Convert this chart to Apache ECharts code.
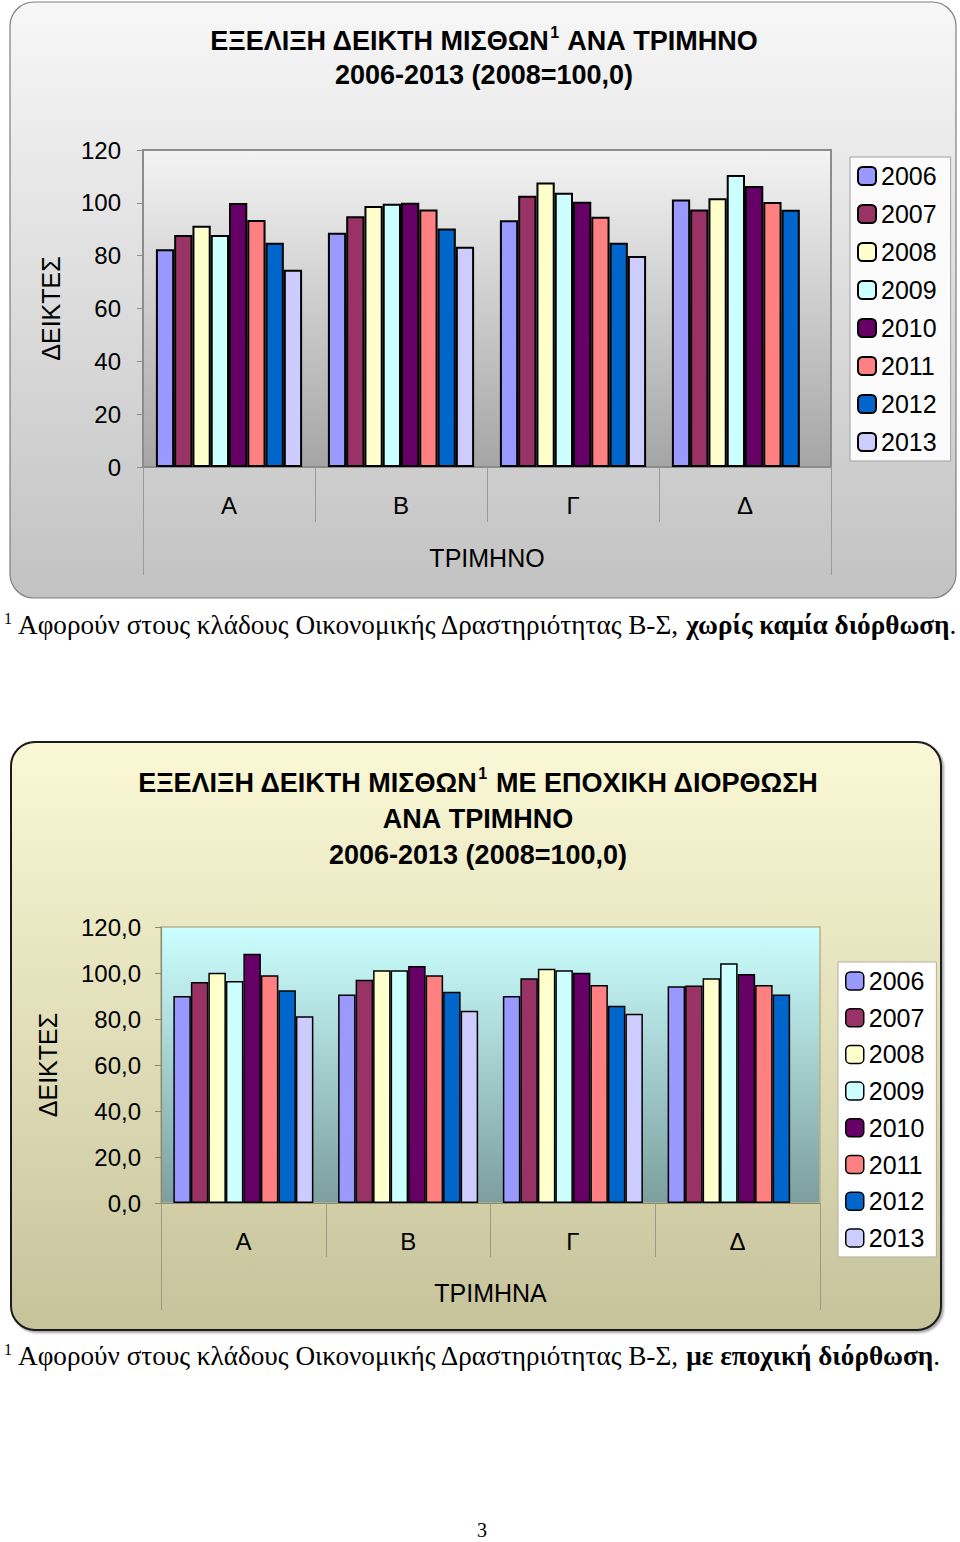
<!DOCTYPE html>
<html>
<head>
<meta charset="utf-8">
<script src="https://cdn.jsdelivr.net/npm/echarts@6/dist/echarts.min.js"></script>
<style>
html,body{margin:0;padding:0;background:#fff;}
#c{width:960px;height:1542px;}
</style>
</head>
<body>
<div id="c"></div>
<script>
// ---- data ----
const quarters = ['Α', 'Β', 'Γ', 'Δ'];
const years = ['2006', '2007', '2008', '2009', '2010', '2011', '2012', '2013'];
const yTicks = [0, 20, 40, 60, 80, 100, 120];

// Index without adjustment (per year, by quarter)
const raw2006 = [82.4, 88.7, 93.4, 101.3];
const raw2007 = [87.8, 94.9, 102.7, 97.5];
const raw2008 = [91.3, 98.8, 107.7, 101.7];
const raw2009 = [87.8, 99.7, 103.8, 110.5];
const raw2010 = [99.9, 100.0, 100.4, 106.4];
const raw2011 = [93.5, 97.5, 94.7, 100.3];
const raw2012 = [84.9, 90.3, 84.9, 97.4];
const raw2013 = [74.7, 83.4, 79.9, null];

// Seasonally adjusted index (per year, by quarter)
const sa2006 = [90.0, 90.6, 90.0, 94.2];
const sa2007 = [96.1, 97.1, 97.7, 94.6];
const sa2008 = [100.1, 101.2, 101.9, 97.7];
const sa2009 = [96.5, 101.2, 101.2, 104.2];
const sa2010 = [108.4, 103.0, 100.1, 99.6];
const sa2011 = [99.0, 99.0, 94.8, 94.8];
const sa2012 = [92.5, 91.9, 85.8, 90.6];
const sa2013 = [81.2, 83.6, 82.3, null];

const rawSeries = [raw2006, raw2007, raw2008, raw2009, raw2010, raw2011, raw2012, raw2013];
const saSeries = [sa2006, sa2007, sa2008, sa2009, sa2010, sa2011, sa2012, sa2013];

// ---- styles ----
const palette = ['#9999FF', '#993366', '#FFFFCC', '#CCFFFF', '#660066', '#FF8080', '#0066CC', '#CCCCFF'];
const SANS = '"Liberation Sans", Arial, sans-serif';
const SERIF = '"Liberation Serif", "Times New Roman", serif';

const chart = echarts.init(document.getElementById('c'), null, { renderer: 'svg' });

function lg(c0, c1) {
  return new echarts.graphic.LinearGradient(0, 0, 0, 1, [
    { offset: 0, color: c0 }, { offset: 1, color: c1 }
  ]);
}

const series = [];
rawSeries.forEach((arr, i) => {
  series.push({
    name: years[i], type: 'bar', xAxisIndex: 0, yAxisIndex: 0,
    data: arr, barGap: '0%', barCategoryGap: '15%',
    itemStyle: { color: palette[i], borderColor: '#000', borderWidth: 2 },
    emphasis: { disabled: true }
  });
});
saSeries.forEach((arr, i) => {
  series.push({
    name: years[i], type: 'bar', xAxisIndex: 2, yAxisIndex: 1,
    data: arr, barGap: '0%', barCategoryGap: '15%',
    itemStyle: { color: palette[i], borderColor: '#000', borderWidth: 1.5 },
    emphasis: { disabled: true }
  });
});

function titleRich(lh) {
  return {
    a: { fontFamily: SANS, fontWeight: 'bold', fontSize: 27, color: '#000', lineHeight: lh },
    s: { fontFamily: SANS, fontWeight: 'bold', fontSize: 16, color: '#000', lineHeight: lh, verticalAlign: 'top', padding: [0, 1, 14, 1] }
  };
}
const noteRich = {
  n: { fontFamily: SERIF, fontSize: 27.2, fontWeight: 'normal', color: '#000', lineHeight: 30 },
  b: { fontFamily: SERIF, fontSize: 27.2, fontWeight: 'bold', color: '#000', lineHeight: 30 },
  s: { fontFamily: SERIF, fontSize: 16, fontWeight: 'normal', color: '#000', lineHeight: 30, padding: [0, 6, 14, 0] }
};

const option = {
  animation: false,
  backgroundColor: '#fff',
  graphic: [
    { type: 'rect', z: -10, shape: { x: 10, y: 2, width: 946, height: 596, r: 24 },
      style: { fill: lg('#f7f7f7', '#c2c2c2'), stroke: '#7f7f7f', lineWidth: 1.2 } },
    { type: 'rect', z: -10, shape: { x: 11, y: 742, width: 930, height: 588, r: 24 },
      style: { fill: lg('#fbf8d6', '#c6c39b'), stroke: '#1a1a1a', lineWidth: 2, shadowColor: 'rgba(0,0,0,0.35)', shadowOffsetX: 2, shadowOffsetY: 2, shadowBlur: 2 } }
  ],
  title: [
    { text: '{a|ΕΞΕΛΙΞΗ ΔΕΙΚΤΗ ΜΙΣΘΩΝ}{s|1}{a| ΑΝΑ ΤΡΙΜΗΝΟ}\n{a|2006-2013 (2008=100,0)}',
      left: 484, top: 24, textAlign: 'center', padding: 0, textStyle: { rich: titleRich(34) } },
    { text: '{a|ΕΞΕΛΙΞΗ ΔΕΙΚΤΗ ΜΙΣΘΩΝ}{s|1}{a| ΜΕ ΕΠΟΧΙΚΗ ΔΙΟΡΘΩΣΗ}\n{a|ΑΝΑ ΤΡΙΜΗΝΟ}\n{a|2006-2013 (2008=100,0)}',
      left: 478, top: 765, textAlign: 'center', padding: 0, textStyle: { rich: titleRich(36) } },
    { text: '{s|1}{n|Αφορούν στους κλάδους Οικονομικής Δραστηριότητας Β-Σ, }{b|χωρίς καμία διόρθωση}{n|.}',
      left: 4, top: 610, padding: 0, textStyle: { fontWeight: 'normal', rich: noteRich } },
    { text: '{s|1}{n|Αφορούν στους κλάδους Οικονομικής Δραστηριότητας Β-Σ, }{b|με εποχική διόρθωση}{n|.}',
      left: 4, top: 1341, padding: 0, textStyle: { fontWeight: 'normal', rich: noteRich } },
    { text: '3', left: 482, top: 1520, textAlign: 'center', padding: 0,
      textStyle: { fontFamily: SERIF, fontSize: 20, fontWeight: 'normal', color: '#000' } }
  ],
  legend: [
    { data: years, orient: 'vertical', left: 850, top: 157, padding: [6, 14, 6, 7],
      backgroundColor: '#fbfbfb', borderColor: '#a0a0a0', borderWidth: 1,
      itemWidth: 18, itemHeight: 18, itemGap: 12, selectedMode: false,
      itemStyle: { borderColor: '#000', borderWidth: 2 },
      textStyle: { fontFamily: SANS, fontSize: 25, color: '#000', lineHeight: 26 } },
    { data: years, orient: 'vertical', left: 838, top: 962, padding: [6, 12, 6, 7],
      backgroundColor: '#ffffff', borderColor: '#b0b0a0', borderWidth: 1,
      itemWidth: 18, itemHeight: 18, itemGap: 10.7, selectedMode: false,
      itemStyle: { borderColor: '#000', borderWidth: 1.5 },
      textStyle: { fontFamily: SANS, fontSize: 25, color: '#000', lineHeight: 26 } }
  ],
  grid: [
    { left: 143, top: 150, width: 688, height: 317, show: true,
      backgroundColor: lg('#f3f3f3', '#a5a5a5'), borderColor: '#8c8c8c', borderWidth: 2 },
    { left: 161, top: 927, width: 659, height: 276, show: true,
      backgroundColor: lg('#ccffff', '#7c9e9e'), borderColor: '#b8b48c', borderWidth: 1.5 }
  ],
  xAxis: [
    { type: 'category', gridIndex: 0, data: quarters,
      axisLine: { show: true, lineStyle: { color: '#8c8c8c', width: 1.5 } },
      axisTick: { show: true, length: 55, lineStyle: { color: '#9a9a9a', width: 1 } },
      axisLabel: { fontFamily: SANS, fontSize: 24, color: '#000', margin: 26 },
      name: 'ΤΡΙΜΗΝΟ', nameLocation: 'middle', nameGap: 78,
      nameTextStyle: { fontFamily: SANS, fontSize: 25, color: '#000' } },
    { type: 'category', gridIndex: 0, data: [''], position: 'bottom',
      axisLine: { show: false }, axisLabel: { show: false },
      axisTick: { show: true, length: 108, lineStyle: { color: '#9a9a9a', width: 1 } } },
    { type: 'category', gridIndex: 1, data: quarters,
      axisLine: { show: true, lineStyle: { color: '#8a8a70', width: 1.2 } },
      axisTick: { show: true, length: 54, lineStyle: { color: '#9c9a80', width: 1 } },
      axisLabel: { fontFamily: SANS, fontSize: 24, color: '#000', margin: 26 },
      name: 'ΤΡΙΜΗΝΑ', nameLocation: 'middle', nameGap: 77,
      nameTextStyle: { fontFamily: SANS, fontSize: 25, color: '#000' } },
    { type: 'category', gridIndex: 1, data: [''], position: 'bottom',
      axisLine: { show: false }, axisLabel: { show: false },
      axisTick: { show: true, length: 107, lineStyle: { color: '#9c9a80', width: 1 } } }
  ],
  yAxis: [
    { type: 'value', gridIndex: 0, min: yTicks[0], max: yTicks[yTicks.length - 1], interval: yTicks[1] - yTicks[0],
      axisLine: { show: true, lineStyle: { color: '#8c8c8c', width: 1.5 } },
      axisTick: { show: true, inside: false, length: 6, lineStyle: { color: '#8c8c8c' } },
      splitLine: { show: false },
      axisLabel: { fontFamily: SANS, fontSize: 24, color: '#000', margin: 22 },
      name: 'ΔΕΙΚΤΕΣ', nameLocation: 'middle', nameRotate: 90, nameGap: 80,
      nameTextStyle: { fontFamily: SANS, fontSize: 25, color: '#000' } },
    { type: 'value', gridIndex: 1, min: yTicks[0], max: yTicks[yTicks.length - 1], interval: yTicks[1] - yTicks[0],
      axisLine: { show: true, lineStyle: { color: '#8a8a70', width: 1.2 } },
      axisTick: { show: true, inside: false, length: 6, lineStyle: { color: '#8a8a70' } },
      splitLine: { show: false },
      axisLabel: { fontFamily: SANS, fontSize: 24, color: '#000', margin: 20,
        formatter: v => v.toFixed(1).replace('.', ',') },
      name: 'ΔΕΙΚΤΕΣ', nameLocation: 'middle', nameRotate: 90, nameGap: 101,
      nameTextStyle: { fontFamily: SANS, fontSize: 25, color: '#000' } }
  ],
  series: series
};
chart.setOption(option);
</script>
</body>
</html>
